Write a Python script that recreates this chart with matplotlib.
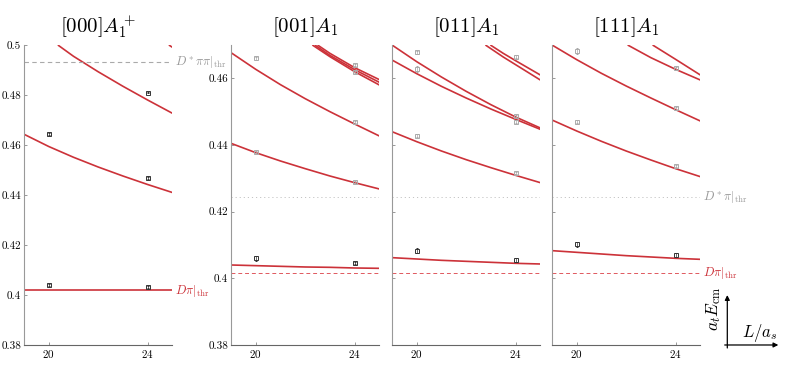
import matplotlib
matplotlib.use("Agg")
import matplotlib.pyplot as plt
from matplotlib.ticker import FuncFormatter

plt.rcParams['mathtext.fontset'] = 'cm'
plt.rcParams['font.family'] = ['cmr10', 'DejaVu Serif']
plt.rcParams['axes.formatter.use_mathtext'] = True

RED = '#cc3239'
GRAY = '#aaaaaa'

titles = [r'$[000]A_1^+$', r'$[001]A_1$', r'$[011]A_1$', r'$[111]A_1$']
x_ticks = [20, 24]
y_ticks_rest = [0.38, 0.40, 0.42, 0.44, 0.46, 0.48, 0.50]
y_ticks_mov = [0.38, 0.40, 0.42, 0.44, 0.46]

# thresholds (a_t E_cm)
thr_Dpi = 0.4017
thr_Dstpi = 0.4243
thr_Dstpipi = 0.4932

Lg = [19, 20, 21, 22, 23, 24, 25]

# non-interacting curves, panel by panel: list of (L values, E values)
curves_000 = [
    (Lg, [0.4018, 0.4018, 0.4018, 0.4018, 0.4018, 0.4018, 0.4018]),
    (Lg, [0.4643, 0.4594, 0.4551, 0.4512, 0.4476, 0.4442, 0.4410]),
    ([20.37, 21, 22, 23, 24, 25], [0.5000, 0.4955, 0.4893, 0.4835, 0.4780, 0.4727]),
    ([24.86, 25], [0.5000, 0.4991]),
]
curves_001 = [
    (Lg, [0.4040, 0.4038, 0.4036, 0.4034, 0.4033, 0.4031, 0.4030]),
    (Lg, [0.4405, 0.4377, 0.4352, 0.4329, 0.4307, 0.4287, 0.4268]),
    (Lg, [0.4677, 0.4627, 0.4581, 0.4539, 0.4500, 0.4463, 0.4427]),
    ([22.29, 23, 24, 25], [0.4700, 0.4665, 0.4620, 0.4580]),
    ([22.39, 23, 24, 25], [0.4700, 0.4669, 0.4626, 0.4588]),
    ([22.50, 23, 24, 25], [0.4700, 0.4675, 0.4632, 0.4596]),
]
curves_011 = [
    (Lg, [0.4062, 0.4058, 0.4054, 0.4051, 0.4048, 0.4045, 0.4043]),
    (Lg, [0.4440, 0.4410, 0.4382, 0.4356, 0.4332, 0.4309, 0.4287]),
    (Lg, [0.4655, 0.4614, 0.4576, 0.4541, 0.4508, 0.4477, 0.4447]),
    (Lg, [0.4700, 0.4650, 0.4604, 0.4561, 0.4521, 0.4484, 0.4451]),
    ([22.78, 23.5, 24, 25], [0.4700, 0.4664, 0.4641, 0.4595]),
    ([22.98, 23.5, 24, 25], [0.4700, 0.4675, 0.4653, 0.4610]),
]
curves_111 = [
    (Lg, [0.4083, 0.4078, 0.4073, 0.4068, 0.4064, 0.4060, 0.4057]),
    (Lg, [0.4475, 0.4442, 0.4411, 0.4382, 0.4355, 0.4329, 0.4305]),
    (Lg, [0.4700, 0.4656, 0.4615, 0.4577, 0.4541, 0.4506, 0.4472]),
    ([22.06, 23, 24, 25], [0.4700, 0.4662, 0.4627, 0.4595]),
    ([23.07, 24, 25], [0.4700, 0.4657, 0.4610]),
]

# lattice levels: black = used, gray = not used
black_L = [[20, 24, 24, 20, 24], [20, 24], [20, 24], [20, 24]]
black_E = [[0.4643, 0.4809, 0.4467, 0.4040, 0.4031], [0.4060, 0.4046],
           [0.4083, 0.4055], [0.4102, 0.4070]]
black_err = [[0.0003, 0.0003, 0.0003, 0.0003, 0.0003], [0.0008, 0.0004],
             [0.0008, 0.0006], [0.0008, 0.0006]]
gray_L = [[], [20, 20, 24, 24, 24, 24], [20, 20, 20, 24, 24, 24, 24],
          [20, 20, 24, 24, 24]]
gray_E = [[], [0.4660, 0.4380, 0.4640, 0.4620, 0.4470, 0.4288],
          [0.4678, 0.4628, 0.4428, 0.4665, 0.4487, 0.4470, 0.4315],
          [0.4682, 0.4470, 0.4630, 0.4510, 0.4337]]
gray_err = [[], [0.0004, 0.0003, 0.0004, 0.0003, 0.0003, 0.0003],
            [0.0005, 0.0010, 0.0004, 0.0004, 0.0004, 0.0004, 0.0003],
            [0.0008, 0.0004, 0.0004, 0.0004, 0.0003]]

all_curves = [curves_000, curves_001, curves_011, curves_111]

fig = plt.figure(figsize=(7.89, 3.70), dpi=100)
lefts = [0.0304, 0.2928, 0.4968, 0.6996]
axes = [fig.add_axes([l, 0.0676, 0.188, 0.8108]) for l in lefts]

for i, ax in enumerate(axes):
    for Lc, Ec in all_curves[i]:
        ax.plot(Lc, Ec, color=RED, lw=1.2, solid_capstyle='butt')
    if gray_L[i]:
        ax.errorbar(gray_L[i], gray_E[i], yerr=gray_err[i], fmt='s', ms=2.4,
                    mfc='none', mec=GRAY, mew=0.7, ecolor=GRAY, elinewidth=0.5,
                    capsize=1.0, zorder=4)
    ax.errorbar(black_L[i], black_E[i], yerr=black_err[i], fmt='s', ms=2.4,
                mfc='none', mec='#333333', mew=0.7, ecolor='#333333',
                elinewidth=0.5, capsize=1.0, zorder=5)

    ax.set_xlim(19, 25)
    ax.set_xticks(x_ticks)
    ax.set_title(titles[i], fontsize=15, pad=9)
    for s in ['top', 'right']:
        ax.spines[s].set_visible(False)
    ax.spines['left'].set_color('#999999')
    ax.spines['bottom'].set_color('#666666')
    ax.tick_params(direction='in', length=2.5, width=0.6, colors='#888888',
                   labelcolor='black', labelsize=8, pad=2)
    ax.yaxis.set_major_formatter(FuncFormatter(lambda v, p: '%g' % round(v, 3)))

    if i == 0:
        ax.set_ylim(0.38, 0.50)
        ax.set_yticks(y_ticks_rest)
        ax.axhline(thr_Dstpipi, color=GRAY, lw=0.8, ls=(0, (4, 3)))
        ax.text(25.1, thr_Dstpipi, r'$D^*\pi\pi|_{\rm thr}$', color='#999999',
                fontsize=9, ha='left', va='center', clip_on=False)
        ax.text(25.1, thr_Dpi, r'$D\pi|_{\rm thr}$', color=RED,
                fontsize=9, ha='left', va='center', clip_on=False)
    else:
        ax.set_ylim(0.38, 0.47)
        ax.set_yticks(y_ticks_mov)
        ax.axhline(thr_Dstpi, color='#c4c4c4', lw=0.7, ls=(0, (1.2, 3)))
        ax.axhline(thr_Dpi, color='#e0585e', lw=0.7, ls=(0, (4, 3)), zorder=1)
        if i > 1:
            ax.tick_params(labelleft=False)
        if i == 3:
            ax.text(25.1, thr_Dstpi, r'$D^*\pi|_{\rm thr}$', color='#999999',
                    fontsize=9, ha='left', va='center', clip_on=False)
            ax.text(25.1, thr_Dpi, r'$D\pi|_{\rm thr}$', color=RED,
                    fontsize=9, ha='left', va='center', clip_on=False)

# axis key in the corner
fig.patches.append(matplotlib.patches.FancyArrowPatch(
    (0.9218, 0.052), (0.9218, 0.210), transform=fig.transFigure,
    arrowstyle='-|>', mutation_scale=7, lw=0.9, color='black'))
fig.patches.append(matplotlib.patches.FancyArrowPatch(
    (0.915, 0.0676), (0.990, 0.0676), transform=fig.transFigure,
    arrowstyle='-|>', mutation_scale=7, lw=0.9, color='black'))
fig.text(0.904, 0.165, r'$a_t E_{\rm cm}$', rotation=90, fontsize=12.5,
         ha='center', va='center')
fig.text(0.963, 0.100, r'$L/a_s$', fontsize=12, ha='center', va='center')

fig.savefig('out.png', dpi=100)
